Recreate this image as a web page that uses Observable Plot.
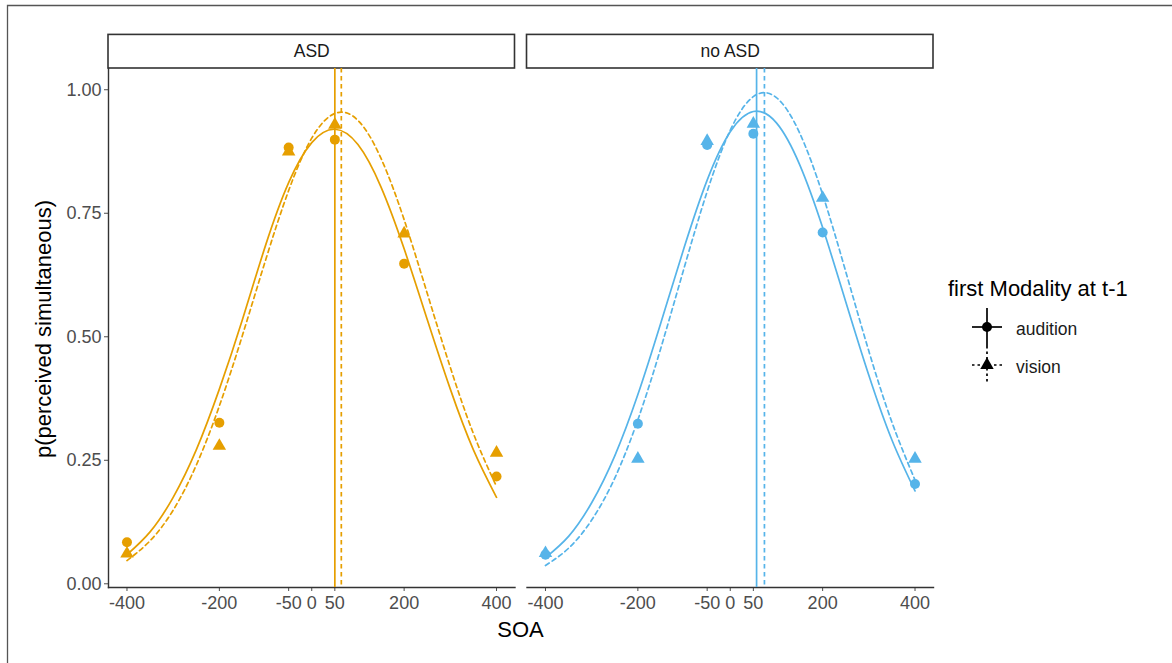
<!DOCTYPE html>
<html>
<head>
<meta charset="utf-8">
<script src="https://cdn.jsdelivr.net/npm/d3@7"></script>
<script src="https://cdn.jsdelivr.net/npm/@observablehq/plot@0.6"></script>
<style>
  html, body { margin: 0; padding: 0; background: #fff; }
  #wrap { position: relative; width: 1172px; height: 663px; overflow: hidden; background: #fff;
          font-family: "Liberation Sans", Arial, sans-serif; }
  #chart { position: absolute; left: 0; top: 0; }
  #overlay { position: absolute; left: 0; top: 0; pointer-events: none; }
</style>
</head>
<body>
<div id="wrap">
  <div id="chart"></div>
  <svg id="overlay" width="1172" height="663"></svg>
</div>
<script>
// ---------- data ----------
const groups = ["ASD", "no ASD"];
const groupColors = ["#E69F00", "#56B4E9"];
const modalities = ["audition", "vision"];
const soaTicks = [-400, -200, -50, 0, 50, 200, 400];
const yTicks = [0, 0.25, 0.5, 0.75, 1];

// observed proportions (points)
const obsSOA = [-400, -200, -50, 50, 200, 400];
const obsASDaudition   = [0.084, 0.326, 0.883, 0.899, 0.648, 0.217];
const obsASDvision     = [0.061, 0.279, 0.875, 0.929, 0.709, 0.265];
const obsNoASDaudition = [0.059, 0.324, 0.888, 0.911, 0.711, 0.202];
const obsNoASDvision   = [0.062, 0.253, 0.896, 0.931, 0.781, 0.253];

// fitted curves
const fitSOA = [-400, -350, -300, -250, -200, -150, -100, -50, 0, 50, 100, 150, 200, 250, 300, 350, 400];
const fitASDaudition   = [0.059, 0.105, 0.175, 0.271, 0.394, 0.535, 0.685, 0.812, 0.893, 0.920, 0.889, 0.803, 0.678, 0.535, 0.394, 0.271, 0.175];
const fitASDvision     = [0.047, 0.087, 0.149, 0.240, 0.360, 0.503, 0.655, 0.796, 0.902, 0.952, 0.938, 0.861, 0.737, 0.588, 0.438, 0.304, 0.197];
const fitNoASDaudition = [0.053, 0.096, 0.164, 0.259, 0.383, 0.529, 0.680, 0.817, 0.915, 0.956, 0.933, 0.849, 0.721, 0.571, 0.422, 0.291, 0.188];
const fitNoASDvision   = [0.037, 0.072, 0.129, 0.214, 0.332, 0.478, 0.639, 0.794, 0.918, 0.986, 0.984, 0.913, 0.788, 0.632, 0.471, 0.327, 0.210];

// points of subjective simultaneity (vertical lines), per group
const pssAudition = [50, 57];
const pssVision   = [64, 74];

// ---------- tidy tables ----------
const obsSeries = [
  ["ASD", "audition", obsASDaudition], ["ASD", "vision", obsASDvision],
  ["no ASD", "audition", obsNoASDaudition], ["no ASD", "vision", obsNoASDvision]
];
const fitSeries = [
  ["ASD", "audition", fitASDaudition], ["ASD", "vision", fitASDvision],
  ["no ASD", "audition", fitNoASDaudition], ["no ASD", "vision", fitNoASDvision]
];
const obs = obsSeries.flatMap(([g, m, vals]) => vals.map((p, i) => ({group: g, modality: m, soa: obsSOA[i], p})));
const fit = fitSeries.flatMap(([g, m, vals]) => vals.map((p, i) => ({group: g, modality: m, soa: fitSOA[i], p})));
const pss = groups.flatMap((g, i) => [
  {group: g, modality: "audition", soa: pssAudition[i]},
  {group: g, modality: "vision", soa: pssVision[i]}
]);

const xDomain = [-440, 440];
const yDomain = [-0.0075, 1.043];
const stripTop = 1.111;
const dash = "4.5,3.5";
const lw = 1.7;

const chart = Plot.plot({
  width: 940,
  height: 663,
  marginLeft: 108,
  marginRight: 7,
  marginTop: 68,
  marginBottom: 76,
  style: {fontFamily: '"Liberation Sans", Arial, sans-serif', fontSize: "18px", color: "#4d4d4d", background: "transparent", overflow: "visible"},
  fx: {domain: groups, paddingInner: 0.0287, paddingOuter: 0, axis: null, label: null, round: false},
  x: {domain: xDomain, label: null},
  y: {domain: yDomain, label: null},
  color: {domain: groups, range: groupColors},
  symbol: {domain: modalities, range: ["circle", "triangle"]},
  marks: [
    // strips
    Plot.rect(groups, {fx: d => d, x1: xDomain[0], x2: xDomain[1], y1: yDomain[1], y2: stripTop,
      fill: "white", stroke: "#333", strokeWidth: 1.6}),
    Plot.text(groups, {fx: d => d, x: (xDomain[0] + xDomain[1]) / 2, y: (yDomain[1] + stripTop) / 2,
      text: d => d, fill: "#1a1a1a", fontSize: 17.5}),
    // axes
    Plot.axisX({ticks: soaTicks, tickFormat: d => String(d), tickSize: 4, tickPadding: 5, label: null, color: "#4d4d4d"}),
    Plot.axisY({ticks: yTicks, tickFormat: d => d.toFixed(2), tickSize: 4, tickPadding: 3, label: null, color: "#4d4d4d"}),
    Plot.frame({anchor: "bottom", stroke: "#333", strokeWidth: 1.4}),
    Plot.frame({anchor: "left", facetAnchor: "left", stroke: "#333", strokeWidth: 1.4}),
    // points
    Plot.dot(obs, {fx: "group", x: "soa", y: "p", fill: "group", symbol: "modality", r: 5, stroke: "none"}),
    // fitted curves
    Plot.line(fit.filter(d => d.modality === "audition"), {fx: "group", x: "soa", y: "p", z: "group", stroke: "group", strokeWidth: lw, curve: "natural"}),
    Plot.line(fit.filter(d => d.modality === "vision"), {fx: "group", x: "soa", y: "p", z: "group", stroke: "group", strokeWidth: lw, curve: "natural", strokeDasharray: dash}),
    // PSS lines
    Plot.ruleX(pss.filter(d => d.modality === "audition"), {fx: "group", x: "soa", stroke: "group", strokeWidth: lw}),
    Plot.ruleX(pss.filter(d => d.modality === "vision"), {fx: "group", x: "soa", stroke: "group", strokeWidth: lw, strokeDasharray: dash})
  ]
});
document.getElementById("chart").appendChild(chart);

// ---------- titles, legend, outer border ----------
const ov = d3.select("#overlay");
const font = '"Liberation Sans", Arial, sans-serif';
ov.append("path").attr("d", "M7.5,663 V5.5 H1172").attr("fill", "none").attr("stroke", "#555").attr("stroke-width", 1.3);

ov.append("text").attr("x", 520.5).attr("y", 637).attr("text-anchor", "middle")
  .attr("font-family", font).attr("font-size", 22).attr("fill", "#000").text("SOA");
ov.append("text").attr("transform", "translate(51,329) rotate(-90)").attr("text-anchor", "middle")
  .attr("font-family", font).attr("font-size", 22).attr("fill", "#000").text("p(perceived simultaneous)");

// legend
const legendTitle = "first Modality at t-1";
ov.append("text").attr("x", 948).attr("y", 296).attr("font-family", font).attr("font-size", 22)
  .attr("fill", "#000").text(legendTitle);
const keyY = [327, 365];
modalities.forEach((m, i) => {
  const cy = keyY[i];
  const g = ov.append("g");
  const da = m === "vision" ? "2.5,3" : null;
  g.append("line").attr("x1", 972).attr("x2", 1002).attr("y1", cy).attr("y2", cy)
    .attr("stroke", "#000").attr("stroke-width", lw).attr("stroke-dasharray", da);
  g.append("line").attr("x1", 987).attr("x2", 987).attr("y1", cy - 19).attr("y2", cy + 19)
    .attr("stroke", "#000").attr("stroke-width", lw).attr("stroke-dasharray", da);
  const sym = d3.symbol().type(m === "vision" ? d3.symbolTriangle : d3.symbolCircle).size(Math.PI * 25);
  g.append("path").attr("d", sym()).attr("transform", `translate(987,${cy})`).attr("fill", "#000");
  g.append("text").attr("x", 1016).attr("y", cy + 7.5).attr("font-family", font).attr("font-size", 17.5)
    .attr("fill", "#1a1a1a").text(m);
});
</script>
</body>
</html>
